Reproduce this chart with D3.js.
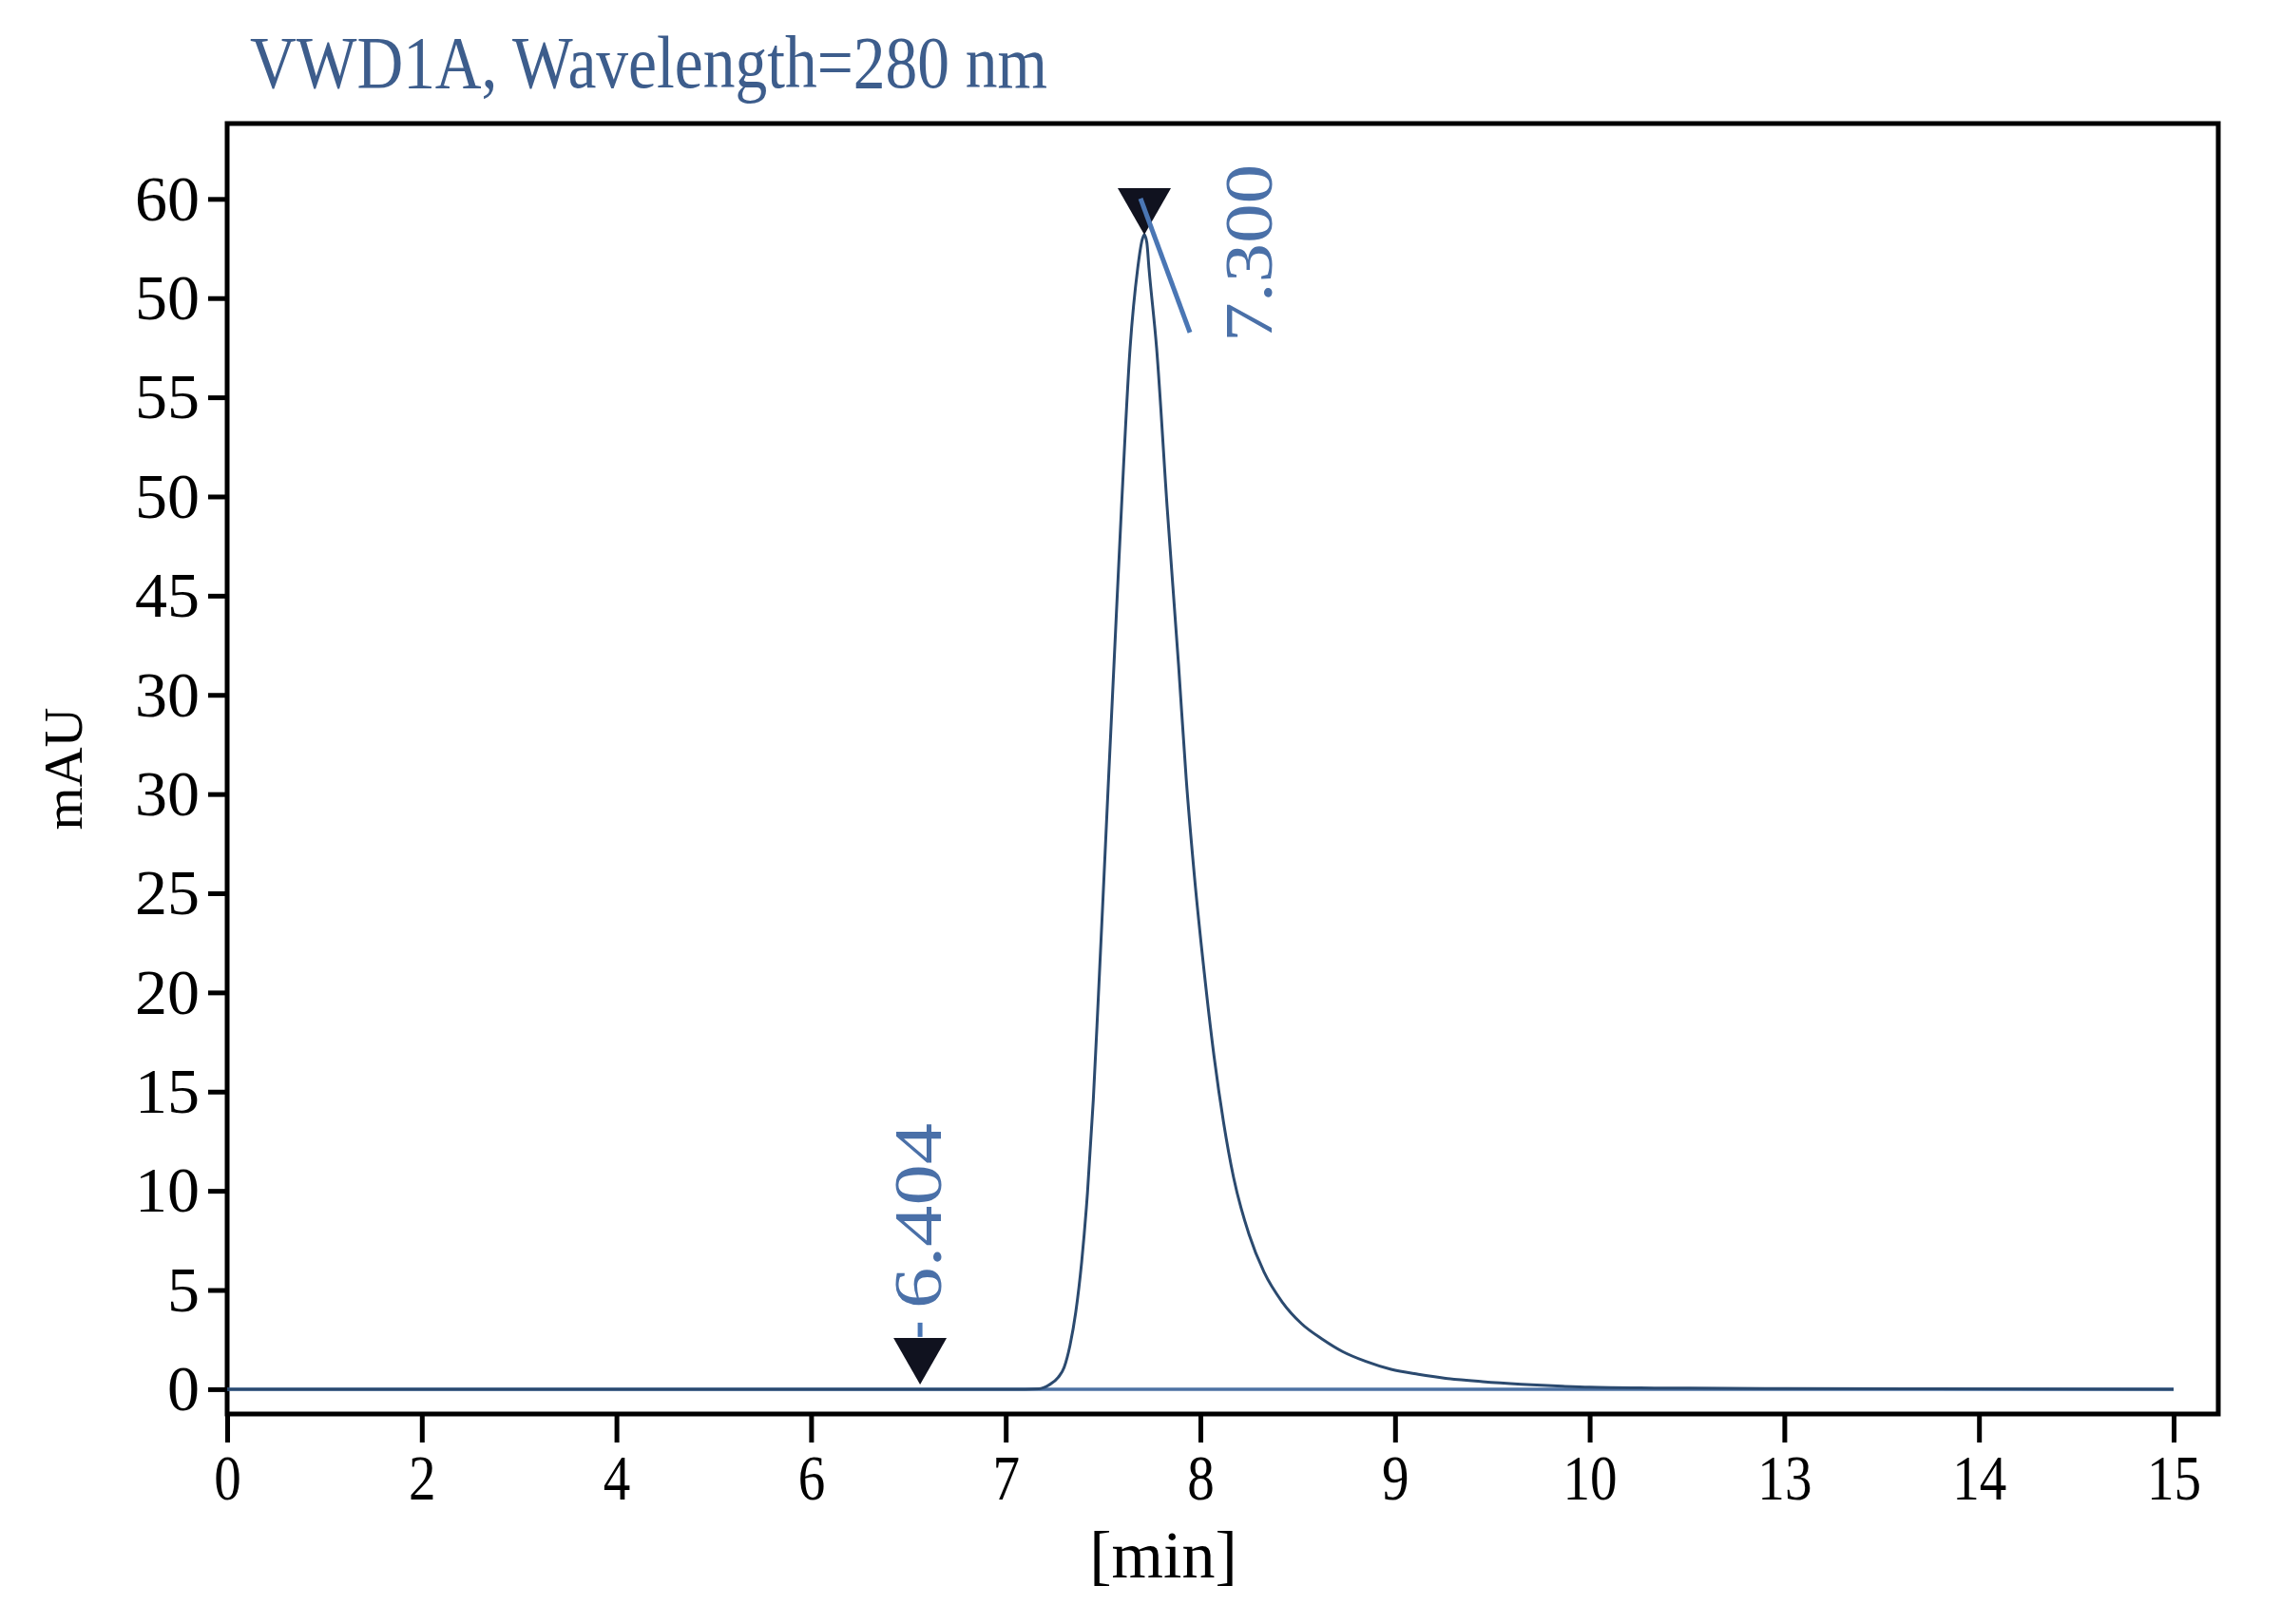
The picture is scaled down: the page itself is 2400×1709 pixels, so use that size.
<!DOCTYPE html>
<html>
<head>
<meta charset="utf-8">
<script src="https://cdn.jsdelivr.net/npm/d3@7"></script>
<style>
  body { margin: 0; background: #ffffff; }
  svg { display: block; }
</style>
</head>
<body>
<script>
// ---- data ----
const chartTitle = "VWD1A, Wavelength=280 nm";
const xAxisTitle = "[min]";
const yAxisTitle = "mAU";

// x ticks are evenly spaced on screen, labels are what the instrument printed
const xTickValues = [0, 2, 4, 6, 7, 8, 9, 10, 13, 14, 15];
// y ticks every 5 mAU, labels as printed (bottom to top)
const yTickValues = [0, 5, 10, 15, 20, 25, 30, 35, 40, 45, 50, 55, 60];
const yTickLabels = ["0", "5", "10", "15", "20", "25", "30", "30", "45", "50", "55", "50", "60"];

// signal trace: time (min) and absorbance (mAU)
const signalTime = [0, 7.10, 7.17, 7.22, 7.27, 7.30, 7.33, 7.36, 7.39, 7.42, 7.45, 7.475, 7.50, 7.526,
  7.556, 7.595, 7.639, 7.678, 7.70, 7.712, 7.725, 7.736, 7.775, 7.829, 7.888, 7.927, 7.97, 8.02, 8.07,
  8.12, 8.17, 8.25, 8.327, 8.42, 8.52, 8.63, 8.73, 8.85, 8.98, 9.12, 9.26, 9.45, 9.65, 9.86, 10.0, 11.0, 13.0, 15.0];
const signalValue = [0, 0, 0.02, 0.2, 0.6, 1.1, 2.2, 3.9, 6.4, 9.9, 14.6, 19.6, 24.8, 30.3,
  36.5, 44.5, 52.5, 56.5, 57.9, 58.2, 57.8, 56.5, 52.5, 44.5, 36.5, 30.8, 25.8, 21.0, 16.8,
  13.4, 10.7, 7.8, 5.9, 4.4, 3.3, 2.5, 1.9, 1.4, 1.0, 0.75, 0.55, 0.38, 0.25, 0.15, 0.1, 0.06, 0.03, 0];

// baseline drawn by the integrator
const baselineTime = [0, 15];
const baselineValue = [0, 0];

// peak markers
const peakTime = [6.56, 7.712];
const peakHeight = [0.24, 58.2];
const peakLabel = ["6.404", "7.300"];

// ---- layout ----
const W = 2400, H = 1709;
const margin = {top: 130, right: 66, bottom: 221, left: 239};
const width = W - margin.left - margin.right;
const height = H - margin.top - margin.bottom;
const xSpan = 2048;           // screen distance from first to last x tick
const fontSerif = "'Liberation Serif', 'DejaVu Serif', serif";

// label offsets (px) relative to each marker tip
const annotLayout = [
  {textDx: 22, textDy: -80, textLen: 195, lead: [[0, -65], [0, -50]]},
  {textDx: 134, textDy: 113, textLen: 187, lead: [[-4, -38], [48, 103]]}
];

const svg = d3.select("body").append("svg")
  .attr("width", W)
  .attr("height", H);

svg.append("rect").attr("width", W).attr("height", H).attr("fill", "#ffffff");

// title
svg.append("text")
  .attr("x", 263)
  .attr("y", 92)
  .attr("font-family", fontSerif)
  .attr("font-size", 78)
  .attr("fill", "#3d5d8c")
  .attr("textLength", 839)
  .attr("lengthAdjust", "spacingAndGlyphs")
  .text(chartTitle);

const g = svg.append("g").attr("transform", `translate(${margin.left},${margin.top})`);

// piecewise scale: each printed tick sits one step further along
const step = xSpan / (xTickValues.length - 1);
const x = d3.scaleLinear()
  .domain(xTickValues)
  .range(xTickValues.map((d, i) => i * step));

const y = d3.scaleLinear()
  .domain([-1.25, 63.8])
  .range([height, 0]);

// axes
const xAxis = d3.axisBottom(x)
  .tickValues(xTickValues)
  .tickFormat(d => d)
  .tickSize(30)
  .tickPadding(12);

const yAxis = d3.axisLeft(y)
  .tickValues(yTickValues)
  .tickFormat((d, i) => yTickLabels[i])
  .tickSize(20)
  .tickPadding(9);

const gx = g.append("g").attr("transform", `translate(0,${height})`).call(xAxis);
gx.select(".domain").remove();
gx.selectAll(".tick line").attr("stroke", "#000").attr("stroke-width", 5);
gx.selectAll(".tick text")
  .attr("font-family", fontSerif)
  .attr("font-size", 68)
  .attr("fill", "#000")
  .attr("transform", "scale(0.84,1)");

const gy = g.append("g").call(yAxis);
gy.select(".domain").remove();
gy.selectAll(".tick line").attr("stroke", "#000").attr("stroke-width", 5);
gy.selectAll(".tick text")
  .attr("font-family", fontSerif)
  .attr("font-size", 68)
  .attr("fill", "#000");

// frame
g.append("rect")
  .attr("width", width)
  .attr("height", height)
  .attr("fill", "none")
  .attr("stroke", "#000")
  .attr("stroke-width", 5);

// axis titles
g.append("text")
  .attr("transform", `translate(-173,${height / 2}) rotate(-90)`)
  .attr("text-anchor", "middle")
  .attr("dy", "0.35em")
  .attr("font-family", fontSerif)
  .attr("font-size", 58)
  .attr("fill", "#000")
  .text(yAxisTitle);

g.append("text")
  .attr("x", 985)
  .attr("y", height + 172)
  .attr("text-anchor", "middle")
  .attr("font-family", fontSerif)
  .attr("font-size", 70)
  .attr("fill", "#000")
  .text(xAxisTitle);

// traces
const line = d3.line()
  .x(d => x(d[0]))
  .y(d => y(d[1]))
  .curve(d3.curveMonotoneX);

g.append("path")
  .datum(d3.zip(baselineTime, baselineValue))
  .attr("fill", "none")
  .attr("stroke", "#4d72a3")
  .attr("stroke-width", 3.5)
  .attr("d", line);

g.append("path")
  .datum(d3.zip(signalTime, signalValue))
  .attr("fill", "none")
  .attr("stroke", "#2b4a6f")
  .attr("stroke-width", 3)
  .attr("d", line);

// peak markers with labels
const peaks = peakTime.map((t, i) => ({t: t, h: peakHeight[i], label: peakLabel[i], lay: annotLayout[i]}));

const mk = g.selectAll(".peak")
  .data(peaks)
  .enter()
  .append("g")
  .attr("class", "peak")
  .attr("transform", d => `translate(${x(d.t)},${y(d.h)})`);

mk.append("path")
  .attr("d", "M0,0L-28,-49L28,-49Z")
  .attr("fill", "#10121f");

mk.append("line")
  .attr("x1", d => d.lay.lead[0][0])
  .attr("y1", d => d.lay.lead[0][1])
  .attr("x2", d => d.lay.lead[1][0])
  .attr("y2", d => d.lay.lead[1][1])
  .attr("stroke", "#4a76b4")
  .attr("stroke-width", 5);

mk.append("text")
  .attr("transform", d => `translate(${d.lay.textDx},${d.lay.textDy}) rotate(-90)`)
  .attr("font-family", fontSerif)
  .attr("font-size", 72)
  .attr("fill", "#4a70a8")
  .attr("textLength", d => d.lay.textLen)
  .attr("lengthAdjust", "spacingAndGlyphs")
  .text(d => d.label);
</script>
</body>
</html>
